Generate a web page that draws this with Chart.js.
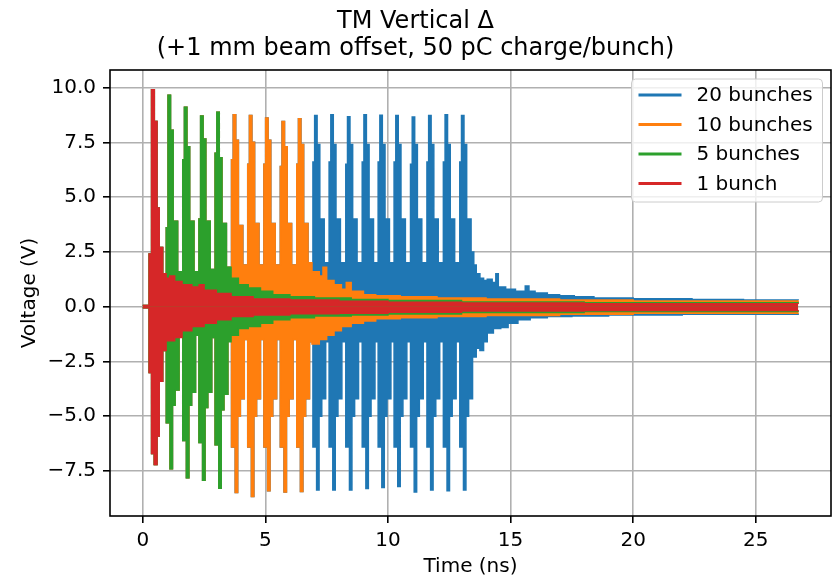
<!DOCTYPE html>
<html>
<head>
<meta charset="utf-8">
<script src="https://cdn.jsdelivr.net/npm/chart.js"></script>
<style>
  html, body { margin: 0; padding: 0; background: #ffffff; }
  #wrap { width: 839px; height: 579px; }
</style>
</head>
<body>
<div id="wrap"><canvas id="c" width="839" height="579"></canvas></div>
<script>
// ---------------- data ----------------
const titleLines = ['TM Vertical \u0394', '(+1 mm beam offset, 50 pC charge/bunch)'];
const xTitle = 'Time (ns)';
const yTitle = 'Voltage (V)';
const xTicks = [0, 5, 10, 15, 20, 25];
const xTickLabels = ['0', '5', '10', '15', '20', '25'];
const yTicks = [-7.5, -5, -2.5, 0, 2.5, 5, 7.5, 10];
const yTickLabels = ['\u22127.5', '\u22125.0', '\u22122.5', '0.0', '2.5', '5.0', '7.5', '10.0'];
const seriesLabels = ['20 bunches', '10 bunches', '5 bunches', '1 bunch'];
const seriesColors = ['#1f77b4', '#ff7f0e', '#2ca02c', '#d62728'];

// Envelope of each trace: [time ns, volts], upper and lower edges (each value holds until the next time).
const oneBunchUpper = [[0,0.05],[0.26,2.4],[0.36,9.9],[0.47,8.45],[0.58,4.5],[0.67,2.7],[0.81,1.5],[0.95,1.3],[1.1,1.4],[1.3,1.15],[1.6,1.0],[2.0,0.9],[2.3,1.0],[2.5,0.75],[3.0,0.6],[3.6,0.45],[4.5,0.35],[6,0.3],[8,0.25],[10,0.2],[13,0.17],[18,0.14],[26.73,0.12]];
const oneBunchLower = [[0,-0.05],[0.26,-3.0],[0.36,-6.7],[0.47,-7.2],[0.58,-5.9],[0.67,-3.4],[0.81,-2.0],[0.95,-1.55],[1.3,-1.4],[1.6,-1.1],[2.0,-0.9],[2.5,-0.75],[3.0,-0.6],[3.6,-0.45],[4.5,-0.38],[6,-0.32],[8,-0.3],[10,-0.25],[13,-0.2],[18,-0.17],[26.73,-0.15]];

const fiveBunchUpper = [[0,0.05],[0.26,2.4],[0.36,9.9],[0.47,8.45],[0.58,4.5],[0.67,2.7],[0.81,1.5],
 [0.96,3.6],[1.03,9.65],[1.13,8.05],[1.24,3.9],[1.42,1.6],
 [1.63,6.7],[1.70,9.1],[1.80,7.3],[1.91,3.9],[2.09,1.6],
 [2.29,4.0],[2.36,8.7],[2.46,7.65],[2.57,3.9],[2.75,1.7],
 [2.95,7.0],[3.02,8.87],[3.12,6.8],[3.23,3.8],
 [3.41,1.8],[3.6,1.3],[3.9,1.0],[4.3,0.85],[4.8,0.7],[5.3,0.55],[6.0,0.45],[7.0,0.4],[8.5,0.33],[10,0.28],[13,0.22],[18,0.18],[26.73,0.16]];
const fiveBunchLower = [[0,-0.05],[0.26,-3.0],[0.36,-6.7],[0.47,-7.2],[0.58,-5.9],[0.67,-3.4],[0.81,-2.0],
 [0.96,-5.3],[1.11,-7.39],[1.21,-4.5],[1.32,-3.8],[1.48,-1.3],
 [1.63,-6.1],[1.78,-7.8],[1.88,-4.5],[1.99,-3.9],[2.15,-1.3],
 [2.29,-6.2],[2.44,-7.92],[2.54,-4.6],[2.65,-3.9],[2.81,-1.4],
 [2.95,-6.3],[3.10,-8.28],[3.20,-4.7],[3.31,-4.0],
 [3.47,-1.6],[3.6,-1.3],[3.9,-1.0],[4.3,-0.9],[4.8,-0.75],[5.3,-0.6],[6.0,-0.5],[7.0,-0.42],[8.5,-0.38],[10,-0.33],[13,-0.27],[18,-0.22],[26.73,-0.2]];

const tenBunchUpper = [[0,0.05],[0.26,2.4],[0.36,9.9],[0.47,8.45],[0.58,4.5],[0.67,2.7],[0.81,1.5],
 [0.96,3.6],[1.03,9.65],[1.13,8.05],[1.24,3.9],[1.42,1.6],
 [1.63,6.7],[1.70,9.1],[1.80,7.3],[1.91,3.9],[2.09,1.6],
 [2.29,4.0],[2.36,8.7],[2.46,7.65],[2.57,3.9],[2.75,1.7],
 [2.95,7.0],[3.02,8.87],[3.12,6.8],[3.23,3.8],[3.41,1.8],
 [3.62,6.7],[3.69,8.76],[3.79,7.6],[3.90,3.7],[4.08,1.9],
 [4.28,6.5],[4.35,8.72],[4.45,7.5],[4.56,3.8],[4.74,1.9],
 [4.94,6.5],[5.01,8.61],[5.11,7.6],[5.22,3.8],[5.40,1.9],
 [5.61,6.4],[5.68,8.45],[5.78,7.3],[5.89,3.8],[6.07,1.9],
 [6.28,6.5],[6.35,8.57],[6.45,7.4],[6.56,3.8],
 [6.74,2.0],[6.9,1.6],[7.2,1.4],[7.35,1.8],[7.5,1.2],[7.8,1.0],[8.1,0.8],[8.3,1.1],[8.5,0.7],[9.0,0.55],[9.5,0.5],[10.5,0.45],[12,0.4],[14,0.35],[17,0.3],[20,0.26],[26.73,0.22]];
const tenBunchLower = [[0,-0.05],[0.26,-3.0],[0.36,-6.7],[0.47,-7.2],[0.58,-5.9],[0.67,-3.4],[0.81,-2.0],
 [0.96,-5.3],[1.11,-7.39],[1.21,-4.5],[1.32,-3.8],[1.48,-1.3],
 [1.63,-6.1],[1.78,-7.8],[1.88,-4.5],[1.99,-3.9],[2.15,-1.3],
 [2.29,-6.2],[2.44,-7.92],[2.54,-4.6],[2.65,-3.9],[2.81,-1.4],
 [2.95,-6.3],[3.10,-8.28],[3.20,-4.7],[3.31,-4.0],[3.47,-1.4],
 [3.62,-6.4],[3.77,-8.48],[3.87,-5.0],[3.98,-4.2],[4.14,-1.5],
 [4.28,-6.4],[4.43,-8.66],[4.53,-5.0],[4.64,-4.2],[4.80,-1.5],
 [4.94,-6.4],[5.09,-8.40],[5.19,-5.0],[5.30,-4.2],[5.46,-1.5],
 [5.61,-6.4],[5.76,-8.45],[5.86,-5.0],[5.97,-4.2],[6.13,-1.5],
 [6.28,-6.4],[6.43,-8.43],[6.53,-5.0],[6.64,-4.2],
 [6.80,-1.6],[6.9,-1.7],[7.2,-1.5],[7.5,-1.3],[7.8,-1.1],[8.1,-0.9],[8.5,-0.75],[9.0,-0.65],[9.5,-0.55],[10.5,-0.5],[12,-0.45],[14,-0.4],[17,-0.35],[20,-0.3],[26.73,-0.27]];

const twentyBunchUpper = [[0,0.05],[0.26,2.4],[0.36,9.9],[0.47,8.45],[0.58,4.5],[0.67,2.7],[0.81,1.5],
 [0.96,3.6],[1.03,9.65],[1.13,8.05],[1.24,3.9],[1.42,1.6],
 [1.63,6.7],[1.70,9.1],[1.80,7.3],[1.91,3.9],[2.09,1.6],
 [2.29,4.0],[2.36,8.7],[2.46,7.65],[2.57,3.9],[2.75,1.7],
 [2.95,7.0],[3.02,8.87],[3.12,6.8],[3.23,3.8],[3.41,1.8],
 [3.62,6.7],[3.69,8.76],[3.79,7.6],[3.90,3.7],[4.08,1.9],
 [4.28,6.5],[4.35,8.72],[4.45,7.5],[4.56,3.8],[4.74,1.9],
 [4.94,6.5],[5.01,8.61],[5.11,7.6],[5.22,3.8],[5.40,1.9],
 [5.61,6.4],[5.68,8.45],[5.78,7.3],[5.89,3.8],[6.07,1.9],
 [6.28,6.5],[6.35,8.57],[6.45,7.4],[6.56,3.8],[6.74,2.0],
 [6.94,6.6],[7.01,8.72],[7.11,7.4],[7.22,4.0],[7.40,2.0],
 [7.60,6.6],[7.67,8.76],[7.77,7.4],[7.88,4.0],[8.06,2.0],
 [8.28,6.5],[8.35,8.67],[8.45,7.4],[8.56,4.0],[8.74,2.0],
 [8.95,6.6],[9.02,8.76],[9.12,7.4],[9.23,4.0],[9.41,2.0],
 [9.60,6.6],[9.67,8.74],[9.77,7.4],[9.88,4.0],[10.06,2.0],
 [10.25,6.6],[10.32,8.72],[10.42,7.4],[10.53,4.0],[10.71,2.0],
 [10.92,6.5],[10.99,8.65],[11.09,7.4],[11.20,4.0],[11.38,2.0],
 [11.59,6.6],[11.66,8.72],[11.76,7.4],[11.87,4.0],[12.05,2.0],
 [12.26,6.6],[12.33,8.76],[12.43,7.4],[12.54,4.0],[12.72,2.0],
 [12.93,6.6],[13.00,8.72],[13.10,7.4],[13.21,4.0],
 [13.39,2.5],[13.5,1.9],[13.6,1.5],[13.75,1.3],[13.9,1.2],[14.05,1.25],[14.25,1.1],[14.4,1.5],[14.5,0.9],[14.8,0.8],[15.2,0.7],[15.6,0.95],[15.75,0.7],[16.0,0.62],[16.5,0.55],[17.0,0.5],[17.6,0.45],[18.4,0.4],[20,0.36],[22.4,0.33],[24.5,0.31],[26.73,0.3]];
const twentyBunchLower = [[0,-0.05],[0.26,-3.0],[0.36,-6.7],[0.47,-7.2],[0.58,-5.9],[0.67,-3.4],[0.81,-2.0],
 [0.96,-5.3],[1.11,-7.39],[1.21,-4.5],[1.32,-3.8],[1.48,-1.3],
 [1.63,-6.1],[1.78,-7.8],[1.88,-4.5],[1.99,-3.9],[2.15,-1.3],
 [2.29,-6.2],[2.44,-7.92],[2.54,-4.6],[2.65,-3.9],[2.81,-1.4],
 [2.95,-6.3],[3.10,-8.28],[3.20,-4.7],[3.31,-4.0],[3.47,-1.4],
 [3.62,-6.4],[3.77,-8.48],[3.87,-5.0],[3.98,-4.2],[4.14,-1.5],
 [4.28,-6.4],[4.43,-8.66],[4.53,-5.0],[4.64,-4.2],[4.80,-1.5],
 [4.94,-6.4],[5.09,-8.40],[5.19,-5.0],[5.30,-4.2],[5.46,-1.5],
 [5.61,-6.4],[5.76,-8.45],[5.86,-5.0],[5.97,-4.2],[6.13,-1.5],
 [6.28,-6.4],[6.43,-8.43],[6.53,-5.0],[6.64,-4.2],[6.80,-1.6],
 [6.94,-6.4],[7.09,-8.36],[7.19,-5.0],[7.30,-4.2],[7.46,-1.6],
 [7.60,-6.4],[7.75,-8.36],[7.85,-5.0],[7.96,-4.2],[8.12,-1.6],
 [8.28,-6.4],[8.43,-8.36],[8.53,-5.0],[8.64,-4.2],[8.80,-1.6],
 [8.95,-6.4],[9.10,-8.30],[9.20,-5.0],[9.31,-4.2],[9.47,-1.6],
 [9.60,-6.4],[9.75,-8.25],[9.85,-5.0],[9.96,-4.2],[10.12,-1.6],
 [10.25,-6.4],[10.40,-8.20],[10.50,-5.0],[10.61,-4.2],[10.77,-1.6],
 [10.92,-6.4],[11.07,-8.45],[11.17,-5.0],[11.28,-4.2],[11.44,-1.6],
 [11.59,-6.4],[11.74,-8.36],[11.84,-5.0],[11.95,-4.2],[12.11,-1.6],
 [12.26,-6.4],[12.41,-8.40],[12.51,-5.0],[12.62,-4.2],[12.78,-1.6],
 [12.93,-6.4],[13.08,-8.36],[13.18,-5.0],[13.29,-4.2],
 [13.45,-2.3],[13.6,-1.9],[13.75,-2.0],[13.9,-1.6],[14.05,-1.2],[14.3,-1.0],[14.6,-0.95],[14.9,-0.75],[15.3,-0.6],[15.8,-0.5],[16.5,-0.45],[17.5,-0.42],[19,-0.38],[22,-0.35],[26.73,-0.33]];

// ---------------- chart construction ----------------
const FONT = 'DejaVu Sans';
Chart.defaults.font.family = FONT;
Chart.defaults.color = '#000000';

const envelopes = [
  [twentyBunchUpper, twentyBunchLower],
  [tenBunchUpper, tenBunchLower],
  [fiveBunchUpper, fiveBunchLower],
  [oneBunchUpper, oneBunchLower]
];

function toXY(arr) { return arr.map(p => ({ x: p[0], y: p[1] })); }

// Datasets listed top-most first (Chart.js draws index 0 last).
const datasets = [];
for (let i = envelopes.length - 1; i >= 0; i--) {
  for (let j = 0; j < 2; j++) {
    datasets.push({
      label: seriesLabels[i],
      data: toXY(envelopes[i][j]),
      borderColor: seriesColors[i],
      backgroundColor: seriesColors[i],
      borderWidth: 1.5,
      pointRadius: 0,
      pointHoverRadius: 0,
      stepped: 'before',
      fill: 'origin',
      tension: 0
    });
  }
}

const framePlugin = {
  id: 'frame',
  afterDatasetsDraw(chart) {
    const { ctx, chartArea: a } = chart;
    ctx.save();
    ctx.strokeStyle = '#000000';
    ctx.lineWidth = 1.6;
    ctx.strokeRect(a.left, a.top, a.right - a.left, a.bottom - a.top);
    ctx.restore();
  }
};

const legendPlugin = {
  id: 'mplLegend',
  afterDraw(chart) {
    const ctx = chart.ctx;
    const a = chart.chartArea;
    const boxW = 191, boxH = 123;
    const bx = a.right - 8.5 - boxW, by = a.top + 9;
    ctx.save();
    ctx.beginPath();
    if (ctx.roundRect) ctx.roundRect(bx, by, boxW, boxH, 4); else ctx.rect(bx, by, boxW, boxH);
    ctx.fillStyle = 'rgba(255,255,255,0.8)';
    ctx.fill();
    ctx.strokeStyle = '#cccccc';
    ctx.lineWidth = 1;
    ctx.stroke();
    ctx.font = '20px "' + FONT + '"';
    ctx.textBaseline = 'middle';
    ctx.textAlign = 'left';
    for (let i = 0; i < seriesLabels.length; i++) {
      const cy = by + 16 + i * 29.5;
      ctx.beginPath();
      ctx.moveTo(bx + 8.5, cy);
      ctx.lineTo(bx + 48.5, cy);
      ctx.strokeStyle = seriesColors[i];
      ctx.lineWidth = 3;
      ctx.lineCap = 'square';
      ctx.stroke();
      ctx.fillStyle = '#000000';
      ctx.fillText(seriesLabels[i], bx + 65, cy + 1);
    }
    ctx.restore();
  }
};

new Chart(document.getElementById('c'), {
  type: 'line',
  data: { datasets },
  plugins: [framePlugin, legendPlugin],
  options: {
    responsive: false,
    devicePixelRatio: 1,
    animation: false,
    events: [],
    layout: { padding: { left: 0, right: 8, top: 0, bottom: 0 } },
    plugins: {
      legend: { display: false },
      tooltip: { enabled: false },
      title: {
        display: true,
        text: titleLines,
        color: '#000000',
        font: { family: FONT, size: 24, weight: 'normal', lineHeight: 1.125 },
        padding: { top: 8.5, bottom: 7.5 }
      }
    },
    scales: {
      x: {
        type: 'linear',
        min: -1.337,
        max: 28.07,
        afterBuildTicks: s => { s.ticks = xTicks.map(v => ({ value: v })); },
        afterFit: s => { s.height = 63; },
        ticks: {
          callback: (v) => xTickLabels[xTicks.indexOf(v)],
          color: '#000000',
          font: { family: FONT, size: 20 },
          padding: 6,
          maxRotation: 0,
          autoSkip: false
        },
        grid: { color: '#b0b0b0', lineWidth: 1.6, tickLength: 7, tickColor: '#000000', tickWidth: 1.6 },
        border: { display: false },
        title: { display: true, text: xTitle, color: '#000000', font: { family: FONT, size: 20 }, padding: { top: 0, bottom: 0 } }
      },
      y: {
        type: 'linear',
        min: -9.55,
        max: 10.8,
        afterBuildTicks: s => { s.ticks = yTicks.map(v => ({ value: v })); },
        afterFit: s => { s.width = 110; },
        ticks: {
          callback: (v) => yTickLabels[yTicks.indexOf(v)],
          color: '#000000',
          font: { family: FONT, size: 20 },
          padding: 7,
          autoSkip: false
        },
        grid: { color: '#b0b0b0', lineWidth: 1.6, tickLength: 7, tickColor: '#000000', tickWidth: 1.6 },
        border: { display: false },
        title: { display: true, text: yTitle, color: '#000000', font: { family: FONT, size: 20 }, padding: { top: 18, bottom: 0 } }
      }
    }
  }
});
</script>
</body>
</html>
